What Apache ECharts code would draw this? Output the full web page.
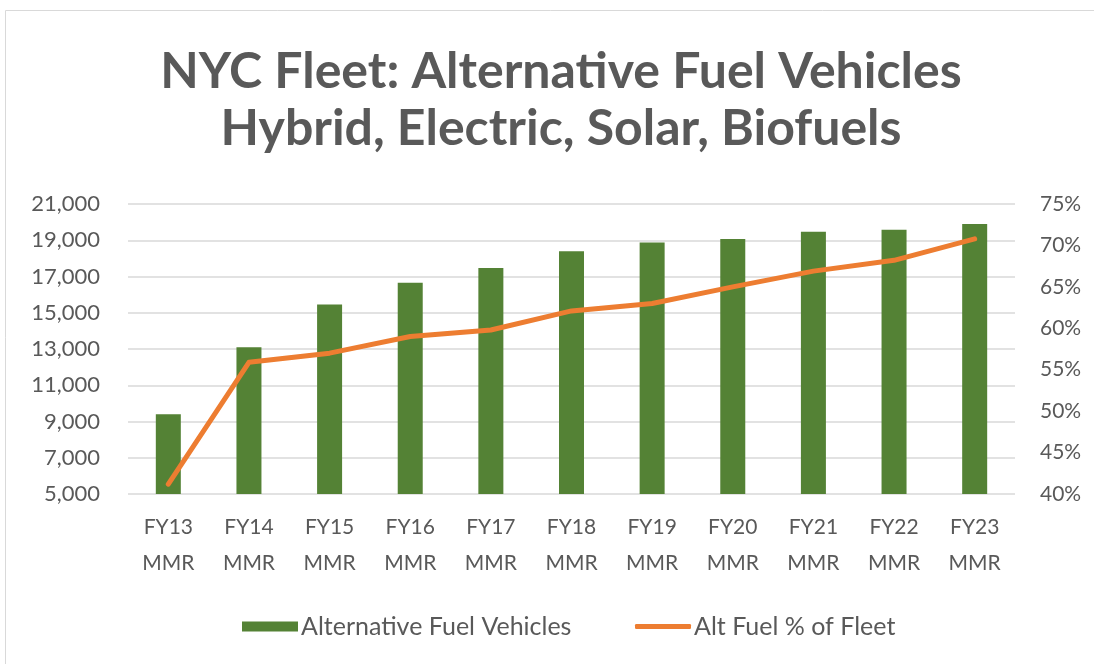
<!DOCTYPE html>
<html>
<head>
<meta charset="utf-8">
<script src="https://cdn.jsdelivr.net/npm/echarts@6/dist/echarts.min.js"></script>
<style>
  html, body { margin: 0; padding: 0; background: #fff; }
  #main { width: 1094px; height: 664px; }
</style>
</head>
<body>
<div id="main"></div>
<script>
// NYC fleet, alternative fuel vehicles: count (bars) + share of fleet (line)
const years = ['FY13', 'FY14', 'FY15', 'FY16', 'FY17', 'FY18', 'FY19', 'FY20', 'FY21', 'FY22', 'FY23']
const categories = years.map(y => y + '\nMMR')
const altFuelVehicles = [9400, 13100, 15450, 16660, 17470, 18390, 18870, 19070, 19470, 19580, 19890]
const altFuelPct = [41.2, 55.9, 57.0, 59.0, 59.8, 62.1, 63.0, 65.0, 66.9, 68.2, 70.8]

const GREEN = '#548235', ORANGE = '#ED7D31', TXT = '#595959', FONT = 'Lato'

const chart = echarts.init(document.getElementById('main'))
chart.setOption({
  animation: false,
  textStyle: { fontFamily: FONT },
  graphic: [{
    type: 'rect', shape: { x: 5.5, y: 10.5, width: 1200, height: 800 },
    style: { fill: 'none', stroke: '#d9d9d9', lineWidth: 1 }, silent: true
  }],
  title: {
    text: 'NYC Fleet: Alternative Fuel Vehicles\nHybrid, Electric, Solar, Biofuels',
    left: 556, top: 38, textAlign: 'center',
    textStyle: { fontFamily: FONT, fontWeight: 'bold', fontSize: 50, color: TXT, lineHeight: 57 }
  },
  legend: [{
    data: [{ name: 'Alternative Fuel Vehicles', icon: 'rect' }],
    left: 237, top: 609, itemWidth: 56, itemHeight: 10, itemGap: 4,
    textStyle: { fontFamily: FONT, fontSize: 25, color: TXT, padding: [0, 0, 0, -2] }
  }, {
    data: [{ name: 'Alt Fuel % of Fleet', icon: 'roundRect' }],
    left: 630, top: 609, itemWidth: 56, itemHeight: 5, itemGap: 4,
    textStyle: { fontFamily: FONT, fontSize: 25, color: TXT, padding: [0, 0, 0, -2] }
  }],
  grid: { left: 128, right: 79, top: 204, bottom: 170 },
  xAxis: {
    type: 'category', data: categories,
    axisLine: { show: false }, axisTick: { show: false },
    axisLabel: { color: TXT, fontSize: 21, lineHeight: 36, margin: 15, interval: 0 }
  },
  yAxis: [{
    type: 'value', min: 5000, max: 21000, interval: 2000,
    axisLine: { show: false }, axisTick: { show: false },
    splitLine: { lineStyle: { color: '#d9d9d9', width: 1.5 } },
    axisLabel: { color: TXT, fontSize: 22, margin: 28, formatter: v => v.toLocaleString('en-US') }
  }, {
    type: 'value', min: 40, max: 75, interval: 5,
    axisLine: { show: false }, axisTick: { show: false }, splitLine: { show: false },
    axisLabel: { color: TXT, fontSize: 21, margin: 25, formatter: '{value}%' }
  }],
  series: [{
    name: 'Alternative Fuel Vehicles', type: 'bar', data: altFuelVehicles,
    barWidth: 25, itemStyle: { color: GREEN }
  }, {
    name: 'Alt Fuel % of Fleet', type: 'line', yAxisIndex: 1, data: altFuelPct,
    symbol: 'none', lineStyle: { color: ORANGE, width: 5, cap: 'round', join: 'round' },
    itemStyle: { color: ORANGE }
  }]
})
</script>
</body>
</html>
